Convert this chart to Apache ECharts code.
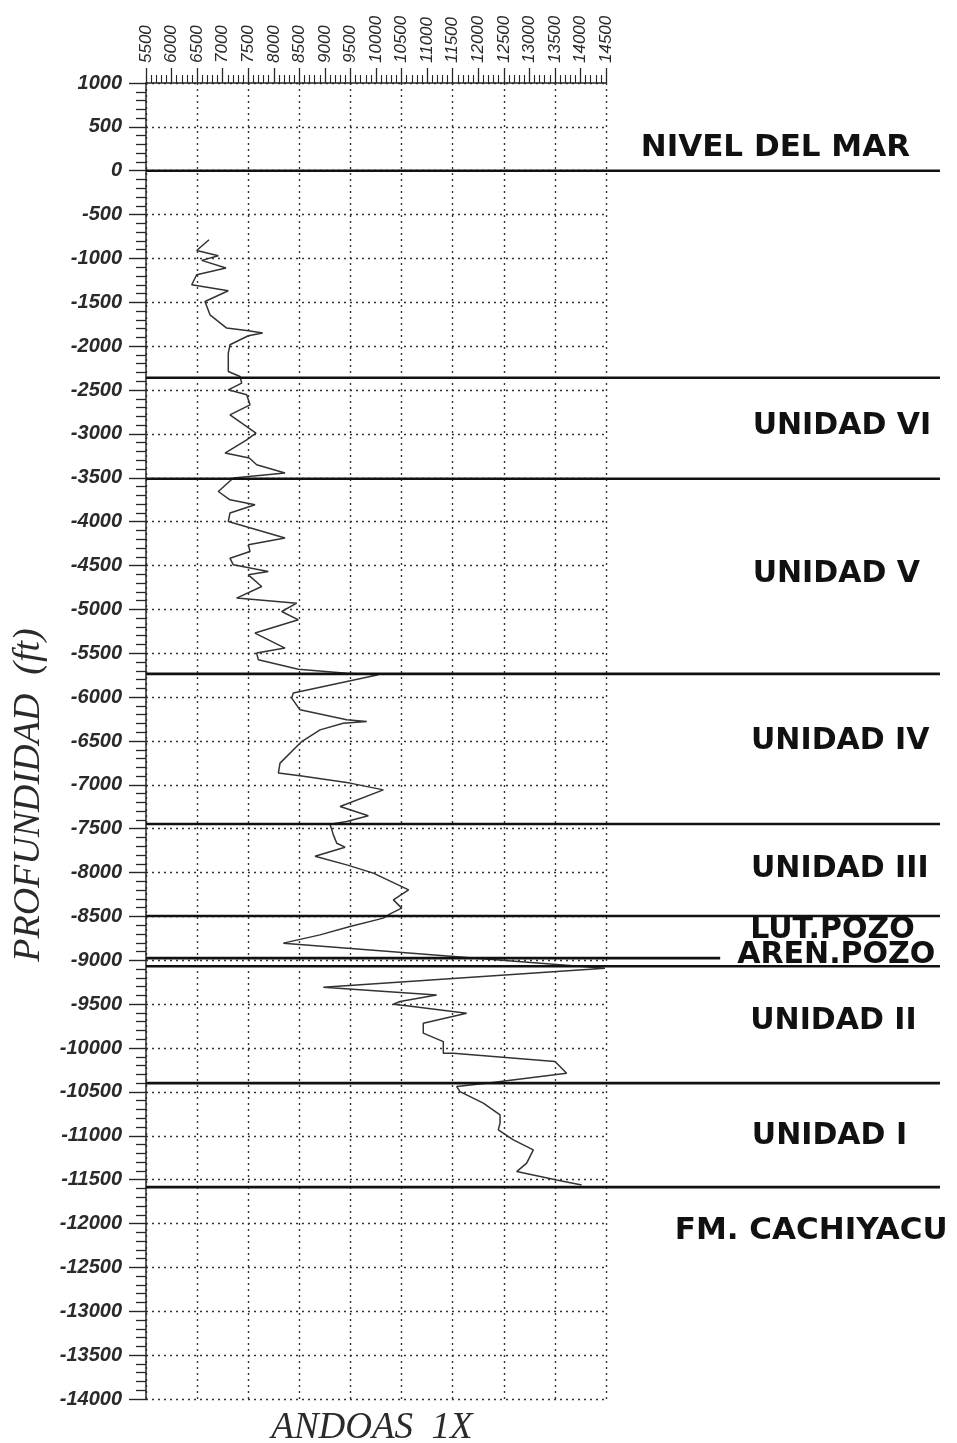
<!DOCTYPE html>
<html>
<head>
<meta charset="utf-8">
<script src="https://cdn.jsdelivr.net/npm/echarts@6/dist/echarts.min.js"></script>
<style>
html,body{margin:0;padding:0;background:#fff;}
#chart{width:957px;height:1443px;}
</style>
</head>
<body>
<div id="chart"></div>
<script>
// ---------------- DATA ----------------
const wellName = "ANDOAS  1X";
const depthAxisTitle = "PROFUNDIDAD  (ft)";
const xTickMin = 5500, xTickMax = 14500, xTickStep = 500, xGridStep = 1000;
const yTickMin = -14000, yTickMax = 1000, yTickStep = 500;

// curve (depth in ft, reading on top scale)
const curveDepth = [
  -787, -909, -969, -1022, -1109, -1186, -1300, -1368, -1490, -1642,
  -1793, -1824, -1850, -1881, -1984, -2078, -2288, -2345, -2420, -2497,
  -2554, -2668, -2782, -2990, -3067, -3218, -3275, -3352, -3446, -3503,
  -3656, -3751, -3808, -3902, -3998, -4187, -4264, -4340, -4416, -4492,
  -4568, -4606, -4739, -4871, -4929, -5024, -5119, -5270, -5441, -5498,
  -5575, -5681, -5727, -5746, -5954, -6011, -6145, -6259, -6278, -6297,
  -6373, -6506, -6752, -6866, -6897, -6980, -7057, -7247, -7353, -7418,
  -7448, -7570, -7665, -7710, -7813, -7912, -8006, -8197, -8311, -8405,
  -8470, -8519, -8615, -8710, -8804, -9089, -9306, -9394, -9470, -9500,
  -9519, -9603, -9716, -9830, -9926, -10058, -10058, -10154, -10286, -10400,
  -10439, -10496, -10628, -10762, -10856, -10933, -11047, -11161, -11312, -11408,
  -11503, -11560
];
const curveValue = [
  6733, 6492, 6915, 6590, 7065, 6492, 6394, 7110, 6654, 6752,
  7078, 7502, 7783, 7502, 7143, 7110, 7110, 7339, 7372, 7110,
  7470, 7535, 7143, 7652, 7470, 7046, 7521, 7665, 8220, 7208,
  6915, 7143, 7633, 7143, 7110, 8220, 7502, 7535, 7143, 7208,
  7893, 7502, 7763, 7274, 8449, 8155, 8481, 7633, 8220, 7665,
  7698, 8481, 9427, 10046, 8382, 8351, 8513, 9427, 9818, 9358,
  8905, 8546, 8122, 8090, 8513, 9492, 10144, 9297, 9850, 9427,
  9101, 9166, 9232, 9394, 8807, 9427, 9948, 10638, 10340, 10503,
  10275, 10144, 9492, 8905, 8187, 14480, 8969, 11186, 10470, 10340,
  10600, 11773, 10925, 10925, 11317, 11317, 11513, 13502, 13730, 12162,
  11578, 11643, 12099, 12427, 12427, 12393, 12687, 13078, 12948, 12753,
  13535, 14024
];

// formation tops (ft)
const topDepths = [0, -2360, -3510, -5735, -7446, -8495, -8975, -9068, -10400, -11585];
const unitNames = ["NIVEL DEL MAR", "UNIDAD VI", "UNIDAD V", "UNIDAD IV", "UNIDAD III",
                   "LUT.POZO", "AREN.POZO", "UNIDAD II", "UNIDAD I", "FM. CACHIYACU"];

// ---------------- LAYOUT ----------------
const topLineEnd = [97.9, 97.9, 97.9, 97.9, 97.9, 97.9, 70.8, 97.9, 97.9, 97.9]; // % of overlay width
const labelPos = [[61.0, 262], [74.8, -2907], [74.8, -4594], [74.6, -6498], [74.6, -7957],
                  [74.5, -8653], [72.9, -8938], [74.5, -9690], [74.7, -11001], [65.2, -12084]];
const labelSize = [31, 30, 30, 30, 30, 30, 30, 30, 30, 31];

const chart = echarts.init(document.getElementById('chart'), null, {renderer: 'canvas'});
const ink = '#262626';
const dotted = {type: [2, 4], color: '#333', width: 1.4};

const curveData = curveDepth.map((d, i) => [curveValue[i], d]);

const series = [
  {
    type: 'line', xAxisIndex: 0, yAxisIndex: 0, data: curveData,
    symbol: 'none', lineStyle: {color: '#333', width: 1.5}, z: 5, animation: false
  }
];
topDepths.forEach((d, i) => {
  series.push({
    type: 'line', xAxisIndex: 2, yAxisIndex: 1,
    data: [[0, d], [topLineEnd[i], d]],
    symbol: 'none', lineStyle: {color: '#111', width: 2.6}, z: 6, animation: false, silent: true
  });
});
series.push({
  type: 'scatter', xAxisIndex: 2, yAxisIndex: 1, symbolSize: 0,
  itemStyle: {color: '#111', opacity: 1},
  data: unitNames.map((n, i) => ({
    name: n, value: labelPos[i],
    label: {fontSize: labelSize[i]}
  })),
  label: {
    show: true, position: 'right', distance: 0, formatter: p => p.name,
    fontFamily: 'DejaVu Sans', fontWeight: 'bold', fontSize: 30, color: '#111', opacity: 1
  },
  labelLayout: {hideOverlap: false},
  z: 7, animation: false, silent: true
});

const noComma = v => String(v);

const option = {
  backgroundColor: '#fff',
  animation: false,
  grid: [
    {left: 146, top: 83, width: 460, height: 1316, containLabel: false},
    {left: 146, top: 83, width: 811, height: 1316, containLabel: false}
  ],
  xAxis: [
    {
      type: 'value', gridIndex: 0, position: 'top', min: xTickMin, max: xTickMax, interval: xTickStep,
      axisLine: {show: true, onZero: false, lineStyle: {color: ink, width: 1.5}},
      axisTick: {show: true, length: 15, lineStyle: {color: ink, width: 1.3}},
      minorTick: {show: true, splitNumber: 5, length: 8, lineStyle: {color: ink, width: 1.1}},
      axisLabel: {rotate: -90, margin: 20, fontSize: 17, fontStyle: 'italic',
                  fontFamily: 'Liberation Sans', color: '#2a2a2a', formatter: noComma},
      splitLine: {show: false}
    },
    {
      type: 'value', gridIndex: 0, position: 'bottom', min: xTickMin, max: xTickMax, interval: xGridStep,
      axisLine: {show: false, onZero: false}, axisTick: {show: false}, axisLabel: {show: false},
      splitLine: {show: true, lineStyle: dotted}
    },
    {
      type: 'value', gridIndex: 1, min: 0, max: 100, show: false, axisLine: {onZero: false}
    }
  ],
  yAxis: [
    {
      type: 'value', gridIndex: 0, min: yTickMin, max: yTickMax, interval: yTickStep,
      axisLine: {show: true, onZero: false, lineStyle: {color: ink, width: 1.5}},
      axisTick: {show: true, length: 17, lineStyle: {color: ink, width: 1.4}},
      minorTick: {show: true, splitNumber: 5, length: 10, lineStyle: {color: ink, width: 1.3}},
      axisLabel: {margin: 24, fontSize: 20, fontStyle: 'italic', fontWeight: 'bold',
                  fontFamily: 'Liberation Sans', color: '#2a2a2a', formatter: noComma},
      splitLine: {show: true, lineStyle: dotted}
    },
    {
      type: 'value', gridIndex: 1, min: yTickMin, max: yTickMax, show: false, axisLine: {onZero: false}
    }
  ],
  graphic: [
    {
      type: 'text', x: 29, y: 795, rotation: Math.PI / 2,
      style: {text: depthAxisTitle, font: 'italic 38px "Liberation Serif"', fill: '#2a2a2a',
              textAlign: 'center', textVerticalAlign: 'middle'}
    },
    {
      type: 'text', x: 372, y: 1428,
      style: {text: wellName, font: 'italic 37px "Liberation Serif"', fill: '#2a2a2a',
              textAlign: 'center', textVerticalAlign: 'middle'}
    }
  ],
  series: series
};
chart.setOption(option);
</script>
</body>
</html>
